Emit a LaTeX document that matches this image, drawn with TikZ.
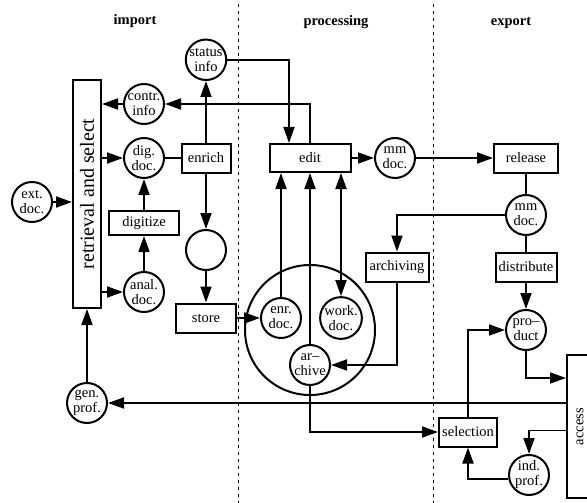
\documentclass[tikz,border=0pt]{standalone}
\usepackage{fontspec}
\setmainfont{Liberation Serif}
\usetikzlibrary{arrows.meta, positioning}
\tikzstyle{box} = [rectangle, draw=black, line width=2pt, minimum height=29pt, inner sep=1pt, font=\fontsize{14.5}{15}\selectfont]
\tikzstyle{doc} = [circle, draw=black, line width=2pt, minimum size=40pt, inner sep=0pt, align=center, font=\fontsize{14.5}{15}\selectfont]
\tikzstyle{arrow} = [line width=1.8pt, -{Triangle[length=16pt,width=11pt]}]
\tikzstyle{darrow} = [line width=1.8pt, {Triangle[length=16pt,width=11pt]}-{Triangle[length=16pt,width=11pt]}]
\tikzstyle{line} = [line width=1.8pt]
\tikzstyle{phase} = [font=\bfseries\fontsize{14.5}{15}\selectfont]
\tikzstyle{border} = [line width=0.8pt, dash pattern=on 3pt off 4pt]

\begin{document}
\begin{tikzpicture}[x=1pt, y=-1pt]
    \useasboundingbox (0,0) rectangle (587,503);

    % Phases
    \node (imp) [phase] at (135,21) {import};
    \node (proc) [phase] at (336,22) {processing};
    \node (exp) [phase] at (511,23) {export};
    \draw [border] (238,4) -- (238,503);
    \draw [border] (433,4) -- (433,503);

    % Nodes
    \node (retr) [box, minimum width=28pt, minimum height=228pt, inner sep=0pt] at (87,194) {\rotatebox{90}{\fontsize{20}{22}\selectfont retrieval and select}};
    \node (ext) [doc] at (32,202) {ext.\\doc.};
    \node (gen) [doc] at (87,403) {gen.\\prof.};

    \node (dig) [doc] at (144,158) {dig.\\doc.};
    \node (contr) [doc, above=12pt of dig] {contr.\\info};
    \node (digitize) [box, minimum width=70pt, minimum height=24pt, below=31pt of dig] {digitize};
    \node (anal) [doc, below=35pt of digitize] {anal.\\doc.};

    \node (enrich) [box, minimum width=49pt, right=15.5pt of dig] {enrich};
    \node (status) [doc, above=61.5pt of enrich] {status\\info};
    \node (tmp) [doc, below=55.5pt of enrich] {};
    \node (store) [box, minimum width=60pt, below=31.5pt of tmp] {store};

    \node (repo) [circle, draw=black, line width=2pt, minimum size=130pt] at (310,330) {};
    \node (enr) [doc] at (281,318) {enr.\\doc.};
    \node (work) [doc] at (341,318) {work.\\doc.};
    \node (arch) [doc] at (310,365) {ar--\\chive};

    \node (edit) [box, minimum width=81pt, minimum height=28pt] at (310,158) {edit};
    \node (mm1) [doc, right=22.5pt of edit] {mm\\doc.};
    \node (archiving) [box, minimum width=63pt] at (397,267) {archiving};

    \node (release) [box, minimum width=64pt] at (526,158) {release};
    \node (mm2) [doc, below=20.5pt of release] {mm\\doc.};
    \node (distribute) [box, minimum width=61pt, below=15.5pt of mm2] {distribute};
    \node (product) [doc, below=26.5pt of distribute] {pro--\\duct};
    \node (selection) [box, minimum width=58pt] at (468,432) {selection};
    \node (ind) [doc] at (529,475) {ind.\\prof.};
    \node (access) [box, minimum width=33pt, minimum height=143pt, inner sep=0pt] at (583.5,426.5) {\rotatebox{90}{access}\hspace*{7pt}};

    % Arrows
    \draw [arrow] (ext) -- (ext -| retr.west);
    \draw [arrow] (contr) -- (contr -| retr.east);
    \draw [arrow] (dig -| retr.east) -- (dig);
    \draw [arrow] (anal -| retr.east) -- (anal);
    \draw [arrow] (gen) -- (retr);
    \draw [arrow] (anal) -- (digitize);
    \draw [arrow] (digitize) -- (dig);
    \draw [line] (dig) -- (enrich);
    \draw [arrow] (enrich) -- (status);
    \draw [arrow] (enrich) -- (tmp);
    \draw [arrow] (tmp) -- (store);
    \draw [arrow] (store) -- (enr);

    \draw [arrow] (status) -| ([xshift=-21pt]edit.north);
    \draw [arrow] (edit.north) |- (contr);
    \draw [arrow] (enr) -- (enr |- edit.south);
    \draw [arrow] (arch) -- (edit);
    \draw [darrow] (work |- edit.south) -- (work);
    \draw [arrow] (edit) -- (mm1);
    \draw [arrow] (mm1) -- (release);

    \draw [line] (release) -- (mm2);
    \draw [line] (mm2) -- (distribute);
    \draw [arrow] (distribute) -- (product);
    \draw [arrow] (mm2) -| (archiving);
    \draw [arrow] (archiving) |- (arch);
    \draw [arrow] (arch) |- (selection);
    \draw [arrow] (selection) |- (product);
    \draw [arrow] (product) |- ([yshift=-24pt]access.north west);
    \draw [arrow] ([yshift=-4pt]access.west) -| (ind);
    \draw [arrow] (ind.190) -| (selection);
    \draw [arrow] ([yshift=23.5pt]access.west) -- (gen);

\end{tikzpicture}
\end{document}
